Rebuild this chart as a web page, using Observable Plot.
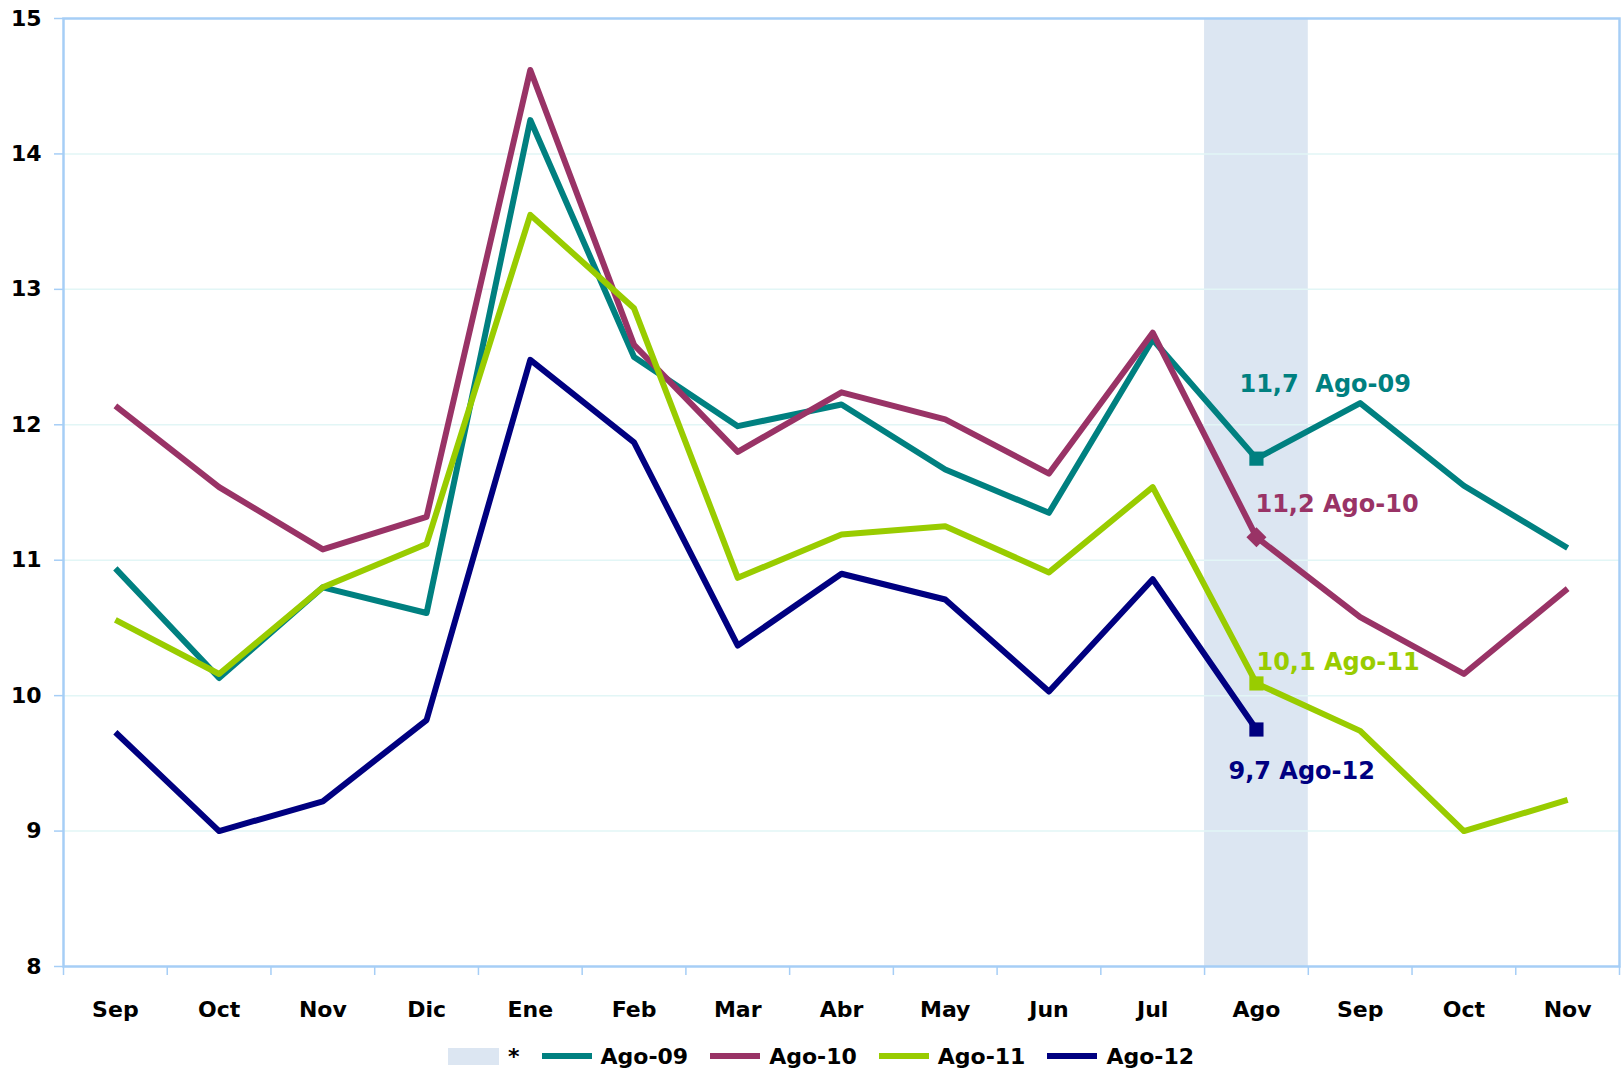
<!DOCTYPE html>
<html>
<head>
<meta charset="utf-8">
<script src="https://cdn.jsdelivr.net/npm/d3@7"></script>
<script src="https://cdn.jsdelivr.net/npm/@observablehq/plot@0.6"></script>
<style>
  body { margin: 0; background: #fff; font-family: "DejaVu Sans", sans-serif; }
  #wrap { position: relative; width: 1623px; height: 1074px; overflow: hidden; }
  #legend { position: absolute; left: 448px; top: 1032px; height: 48px; display: flex; align-items: center;
            font-weight: bold; font-size: 22px; color: #000; }
  .sw { display: inline-block; margin-right: 9px; }
  .item { display: flex; align-items: center; margin-right: 22px; }
</style>
</head>
<body>
<div id="wrap">
  <div id="chart"></div>
  <div id="legend"></div>
</div>
<script>
// ---- data ----
const months = ["Sep","Oct","Nov","Dic","Ene","Feb","Mar","Abr","May","Jun","Jul","Ago","Sep","Oct","Nov"];
const seriesNames = ["Ago-09","Ago-10","Ago-11","Ago-12"];
const ago09 = [10.94,10.13,10.80,10.61,14.25,12.50,11.99,12.15,11.67,11.35,12.63,11.75,12.16,11.55,11.09];
const ago10 = [12.14,11.54,11.08,11.32,14.62,12.59,11.80,12.24,12.04,11.64,12.68,11.17,10.58,10.16,10.79];
const ago11 = [10.56,10.16,10.80,11.12,13.55,12.86,10.87,11.19,11.25,10.91,11.54,10.09,9.74,9.00,9.23];
const ago12 = [9.73,9.00,9.22,9.82,12.48,11.87,10.37,10.90,10.71,10.03,10.86,9.75];
const colors = ["#008080","#993366","#99cc00","#000080"];
const pointLabels = ["11,7","11,2","10,1","9,7"];
const highlightIndex = 11;          // "Ago" column, shaded band
const yTicks = [8,9,10,11,12,13,14,15];
const legendShadeLabel = "*";

// ---- build table ----
const allSeries = [ago09, ago10, ago11, ago12];
const rows = allSeries.flatMap((vals, s) => vals.map((v, i) => ({i, value: v, series: seriesNames[s]})));
const marked = allSeries.map((vals, s) => ({
  i: highlightIndex, value: vals[highlightIndex], series: seriesNames[s],
  label: pointLabels[s] + (s === 0 ? "\u00a0\u00a0" : "\u00a0") + seriesNames[s]
}));
// label offsets (px) relative to the marked point
const labelOffsets = {"Ago-09": [-17, -74], "Ago-10": [-1, -33], "Ago-11": [0, -21], "Ago-12": [-28, 42]};

const axisColor = "#a6cef6";
const font = "DejaVu Sans";

const chart = Plot.plot({
  width: 1623,
  height: 1032,
  marginLeft: 63,
  marginRight: 4,
  marginTop: 18,
  marginBottom: 66,
  style: {fontFamily: font, background: "#fff"},
  x: {type: "linear", domain: [-0.5, months.length - 0.5], axis: null, label: null},
  y: {domain: [8, 15], axis: null, label: null},
  color: {domain: seriesNames, range: colors},
  marks: [
    Plot.rect([highlightIndex], {x1: d => d - 0.5, x2: d => d + 0.5, y1: 8, y2: 15, fill: "#dce6f2"}),
    Plot.ruleY(yTicks.slice(1, -1), {stroke: "#e2f6f6", strokeWidth: 1.5}),
    Plot.line(rows, {x: "i", y: "value", z: "series", stroke: "series", strokeWidth: 6,
                     strokeLinejoin: "round", strokeLinecap: "butt"}),
    Plot.dot(marked, {x: "i", y: "value", fill: "series", symbol: "square", r: 8,
                      rotate: d => d.series === "Ago-10" ? 45 : 0}),
    ...marked.map(m => Plot.text([m], {x: "i", y: "value", text: "label", fill: "series",
      textAnchor: "start", dx: labelOffsets[m.series][0], dy: labelOffsets[m.series][1],
      fontSize: 24, fontWeight: "bold"})),
    Plot.frame({stroke: axisColor, strokeWidth: 2.5}),
    Plot.axisY(yTicks, {anchor: "left", label: null, tickSize: 9, tickPadding: 13, stroke: axisColor, strokeWidth: 1.5,
                        fill: "#000", fontSize: 22, fontWeight: "bold", tickFormat: d => String(d)}),
    Plot.axisX(d3.range(-0.5, months.length, 1), {anchor: "bottom", label: null, tickSize: 9, stroke: axisColor,
                        strokeWidth: 1.5, tickFormat: () => ""}),
    Plot.axisX(d3.range(months.length), {anchor: "bottom", label: null, tickSize: 0, tickPadding: 35,
                        fill: "#000", fontSize: 22, fontWeight: "bold", tickFormat: i => months[i]})
  ]
});
document.getElementById("chart").appendChild(chart);

// ---- legend ----
const legend = document.getElementById("legend");
const shade = document.createElement("div");
shade.className = "item";
shade.innerHTML = `<span class="sw" style="width:51px;height:17px;background:#dce6f2"></span><span>${legendShadeLabel}</span>`;
legend.appendChild(shade);
seriesNames.forEach((name, k) => {
  const it = document.createElement("div");
  it.className = "item";
  it.innerHTML = `<span class="sw" style="width:50px;height:6px;background:${colors[k]}"></span><span>${name}</span>`;
  legend.appendChild(it);
});
</script>
</body>
</html>
